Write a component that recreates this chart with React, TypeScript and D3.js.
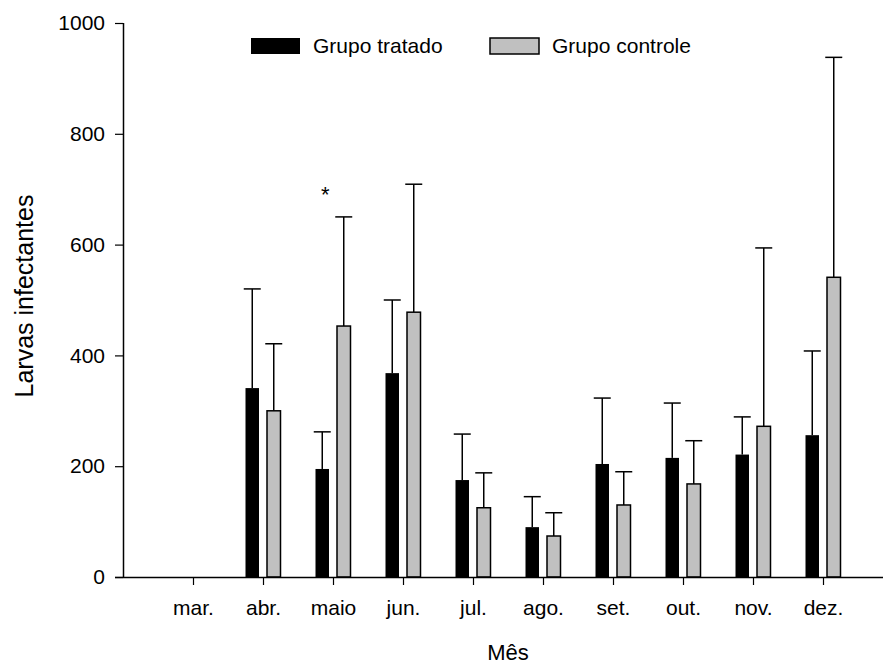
import { useEffect, useRef } from 'react';
import * as d3 from 'd3';

const months = ['mar.', 'abr.', 'maio', 'jun.', 'jul.', 'ago.', 'set.', 'out.', 'nov.', 'dez.'];
const tratado = [null, 341, 195, 368, 175, 90, 204, 215, 221, 256];
const tratadoErr = [null, 179, 67, 132, 83, 55, 119, 99, 68, 152];
const controle = [null, 300, 453, 478, 125, 74, 130, 168, 272, 541];
const controleErr = [null, 121, 197, 231, 63, 42, 60, 78, 322, 397];
const yTicks = [0, 200, 400, 600, 800, 1000];
const groups = ['Grupo tratado', 'Grupo controle'];
const groupColors = ['#000000', '#c0c0c0'];
// significance mark: month and the height it sits at
const starMonth = 'maio';
const starValue = 677;

const FONT = 'Arial, "Liberation Sans", sans-serif';

export default function App() {
  const svgRef = useRef<SVGSVGElement>(null);

  useEffect(() => {
    const W = 883;
    const H = 666;
    const left = 123;
    const right = 893;
    const bottom = 577;
    const top = 23;

    d3.select(svgRef.current).selectAll('*').remove();
    const svg = d3.select(svgRef.current).attr('width', W).attr('height', H);

    const x = d3.scalePoint<string>().domain(months).range([left, right]).padding(1);
    const sub = d3.scaleBand<string>().domain(groups).range([-17.5, 17.5]).paddingInner(0.372);
    const y = d3.scaleLinear().domain([0, 1000]).range([bottom, top]);

    const series = [
      { name: groups[0], values: tratado, errs: tratadoErr, color: groupColors[0] },
      { name: groups[1], values: controle, errs: controleErr, color: groupColors[1] },
    ];

    // error bars (upper only), drawn first so bars sit on top
    series.forEach((s) => {
      const g = svg.append('g');
      months.forEach((m, i) => {
        const v = s.values[i];
        const e = s.errs[i];
        if (v == null || e == null) return;
        const cx = (x(m) as number) + (sub(s.name) as number) + sub.bandwidth() / 2;
        g.append('line')
          .attr('x1', cx).attr('x2', cx)
          .attr('y1', y(v)).attr('y2', y(v + e))
          .attr('stroke', '#000').attr('stroke-width', 1.5);
        g.append('line')
          .attr('x1', cx - 8.5).attr('x2', cx + 8.5)
          .attr('y1', y(v + e)).attr('y2', y(v + e))
          .attr('stroke', '#000').attr('stroke-width', 1.5);
      });
    });

    // bars
    series.forEach((s, si) => {
      svg.append('g')
        .selectAll('rect')
        .data(months.map((m, i) => ({ m, v: s.values[i] })).filter((d) => d.v != null))
        .join('rect')
        .attr('x', (d) => (x(d.m) as number) + (sub(s.name) as number))
        .attr('y', (d) => y(d.v as number))
        .attr('width', sub.bandwidth())
        .attr('height', (d) => bottom - y(d.v as number))
        .attr('fill', s.color)
        .attr('stroke', si === 1 ? '#000' : 'none')
        .attr('stroke-width', 1.5);
    });

    // x axis
    const xAxis = svg.append('g')
      .attr('transform', `translate(0,${bottom})`)
      .call(d3.axisBottom(x).tickSize(8).tickPadding(15));
    xAxis.select('.domain').attr('d', `M${left - 8},0.5H${right}`).attr('stroke-width', 1.5);
    xAxis.selectAll('.tick line').attr('stroke-width', 1.2);
    xAxis.selectAll('text').style('font-family', FONT).style('font-size', '21px').attr('fill', '#000');

    // y axis
    const yAxis = svg.append('g')
      .attr('transform', `translate(${left},0)`)
      .call(d3.axisLeft(y).tickValues(yTicks).tickFormat(d3.format('d')).tickSize(8).tickPadding(10));
    yAxis.select('.domain').attr('d', `M0.5,${bottom}V${top}`).attr('stroke-width', 1.5);
    yAxis.selectAll('.tick line').attr('stroke-width', 1.2);
    yAxis.selectAll('text').style('font-family', FONT).style('font-size', '21px').attr('fill', '#000');

    // axis titles
    svg.append('text')
      .attr('x', (left + right) / 2)
      .attr('y', 660)
      .attr('text-anchor', 'middle')
      .style('font-family', FONT)
      .style('font-size', '22px')
      .text('Mês');

    svg.append('text')
      .attr('transform', `translate(33,${(top + bottom) / 2 - 4}) rotate(-90)`)
      .attr('text-anchor', 'middle')
      .style('font-family', FONT)
      .style('font-size', '25px')
      .text('Larvas infectantes');

    // significance asterisk
    svg.append('text')
      .attr('x', (x(starMonth) as number) + (sub(groups[0]) as number) + sub.bandwidth() / 2 + 3)
      .attr('y', y(starValue))
      .attr('text-anchor', 'middle')
      .style('font-family', FONT)
      .style('font-size', '22px')
      .text('*');

    // legend
    const legendX = [251, 490];
    groups.forEach((name, i) => {
      svg.append('rect')
        .attr('x', legendX[i]).attr('y', 38)
        .attr('width', 49).attr('height', 16)
        .attr('fill', groupColors[i])
        .attr('stroke', i === 1 ? '#000' : 'none')
        .attr('stroke-width', 1.5);
      svg.append('text')
        .attr('x', legendX[i] + 62)
        .attr('y', 53)
        .style('font-family', FONT)
        .style('font-size', '21px')
        .text(name);
    });
  }, []);

  return (
    <div style={{ position: 'absolute', left: 0, top: 0 }}>
      <svg ref={svgRef}></svg>
    </div>
  );
}
